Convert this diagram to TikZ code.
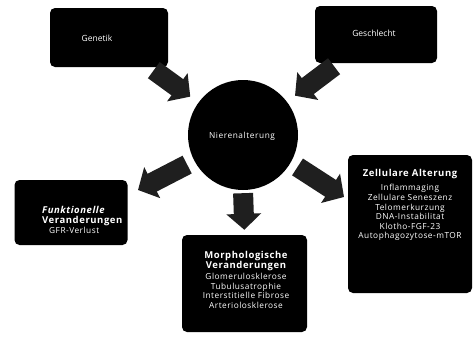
\documentclass[tikz,border=0pt]{standalone}
\usepackage{fontspec}
\setmainfont{Open Sans}
\usetikzlibrary{arrows.meta}
\newcommand{\ttlf}{\fontsize{9.5}{12.5}\selectfont\bfseries}
\newcommand{\bodyf}{\fontsize{8.3}{9.6}\selectfont\addfontfeature{LetterSpace=6}}
\begin{document}
\begin{tikzpicture}[x=1pt,y=-1pt,
  box/.style={fill=black,rounded corners=5pt,inner sep=0pt},
  txt/.style={text=white,inner sep=0pt,align=center,font=\bodyf},
  fat/.style={draw=black!88,line width=20pt,-{Triangle[width=34pt,length=16pt]}}]
\useasboundingbox (0,0) rectangle (474,340);
\node[box,minimum width=118pt,minimum height=59pt] (gen) at (109,37.5) {};
\node[txt,font=\fontsize{8.5}{10}\selectfont] (gent) at (97,38) {Genetik};
\node[box,minimum width=122pt,minimum height=57pt] (ges) at (376,34.5) {};
\node[txt,font=\fontsize{8.5}{10}\selectfont] (gest) at (374,33) {Geschlecht};
\node[circle,fill=black,minimum size=110pt,inner sep=0pt] (circ) at (243,135) {};
\node[txt,font=\fontsize{8.3}{9}\selectfont\addfontfeature{LetterSpace=7}] (circt) at (242,136) {Nierenalterung};
\node[box,minimum width=113pt,minimum height=65pt] (fun) at (71,212.5) {};
\node[txt,align=left,anchor=west] (funt) at (42,220) {{\ttlf\itshape Funktionelle}\\[0pt]{\ttlf Veranderungen}\\\hspace{7pt}GFR-Verlust};
\node[box,minimum width=125pt,minimum height=97pt] (mor) at (244.5,283.5) {};
\node[txt] (mort) at (246,280) {{\ttlf Morphologische}\\{\ttlf Veranderungen}\\[2pt]Glomerulosklerose\\Tubulusatrophie\\Interstitielle Fibrose\\Arteriolosklerose};
\node[box,minimum width=124pt,minimum height=138pt] (zel) at (410,224) {};
\node[txt] (zelt) at (410,205) {{\ttlf Zellulare Alterung}\\[5pt]Inflammaging\\Zellulare Seneszenz\\Telomerkurzung\\DNA-Instabilitat\\Klotho-FGF-23\\Autophagozytose-mTOR};
\coordinate (funin) at (138,190);
\coordinate (zelin) at (344,197);
\draw[fat,shorten <=5pt,shorten >=10pt] (gen) -- (circ);
\draw[fat,shorten <=5pt,shorten >=10pt] (ges) -- (circ);
\draw[fat,shorten <=8pt] (circ.-152) -- (funin);
\draw[fat,shorten <=3pt,shorten >=5pt] (circ.south) -- (mor.north);
\draw[fat,shorten <=8pt] (circ.-30) -- (zelin);
\end{tikzpicture}
\end{document}
